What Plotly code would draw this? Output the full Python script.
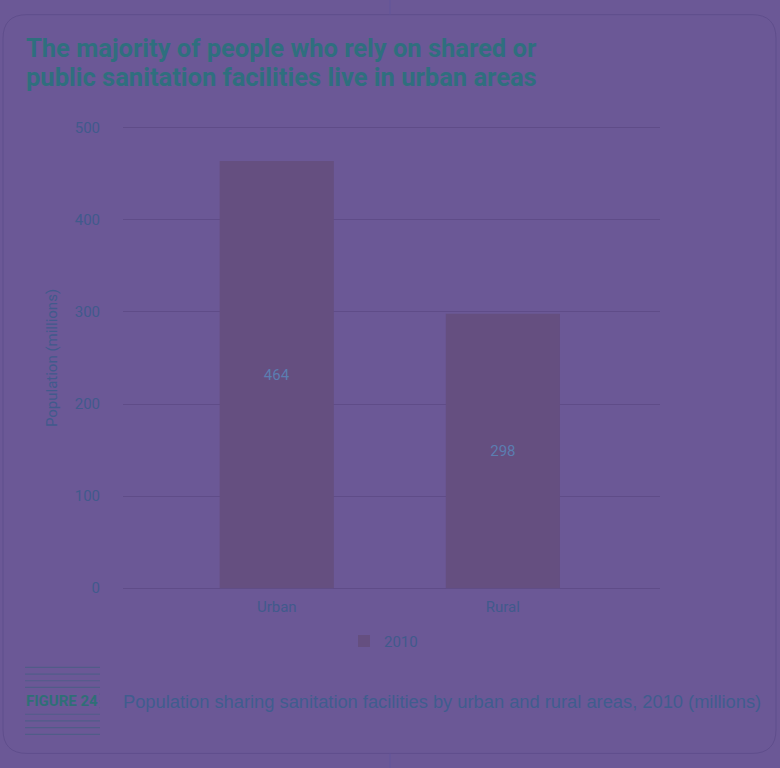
import plotly.graph_objects as go

categories = ["Urban", "Rural"]
values_2010 = [464, 298]
series_name = "2010"
y_ticks = [0, 100, 200, 300, 400, 500]

title_lines = ["The majority of people who rely on shared or",
               "public sanitation facilities live in urban areas"]
caption = "Population sharing sanitation facilities by urban and rural areas, 2010 (millions)"
fig_label = "FIGURE 24"

W, H = 780, 768
YMIN, YMAX = -3, 503
PXU = 0.92
L, R = 123, 660
T, B = 128 - 3 * PXU, 588 + 3 * PXU

def px(x):
    return (x - L) / (R - L)

def py(y):
    return (B - y) / (B - T)

BG = "#6b5896"
BAR = "#654f80"
GRID = "#5f4c88"
AXTXT = "#415a8c"
TITLE = "#2f6f7e"
FONT = "Roboto, Arial"

fig = go.Figure()
fig.add_trace(go.Bar(
    x=categories, y=values_2010, name=series_name,
    marker=dict(color=BAR, line=dict(width=0)),
    width=0.505,
    text=[str(v) for v in values_2010],
    textposition="inside", insidetextanchor="middle",
    textfont=dict(family=FONT, size=15, color="#5b7db0"),
    showlegend=True,
))

shapes = []
# rounded border
x0, x1, y0, y1, r = 3, 776, 15, 753, 24
path = (f"M {px(x0)},{py(y0+r)} L {px(x0)},{py(y1-r)} "
        f"Q {px(x0)},{py(y1)} {px(x0+r)},{py(y1)} L {px(x1-r)},{py(y1)} "
        f"Q {px(x1)},{py(y1)} {px(x1)},{py(y1-r)} L {px(x1)},{py(y0+r)} "
        f"Q {px(x1)},{py(y0)} {px(x1-r)},{py(y0)} L {px(x0+r)},{py(y0)} "
        f"Q {px(x0)},{py(y0)} {px(x0)},{py(y0+r)} Z")
shapes.append(dict(type="path", xref="paper", yref="paper", path=path,
                   line=dict(color="#5f4e8c", width=1), layer="below"))
# faint vertical lines outside the card
for (a, b) in [(0, 15), (753, 768)]:
    shapes.append(dict(type="line", xref="paper", yref="paper",
                       x0=px(390), x1=px(390), y0=py(a), y1=py(b),
                       line=dict(color="#62549a", width=1)))
# stripes beside the figure label
for i in range(11):
    yy = 667 + i * 6.7
    shapes.append(dict(type="line", xref="paper", yref="paper",
                       x0=px(25), x1=px(100), y0=py(yy), y1=py(yy),
                       line=dict(color="#505c88", width=1.2)))

annotations = []
for i, line in enumerate(title_lines):
    annotations.append(dict(text=f"<b>{line}</b>", xref="paper", yref="paper",
                            x=px(24), y=py(48 + i * 29), xanchor="left", yanchor="middle",
                            showarrow=False,
                            font=dict(family=FONT, size=25.5, color=TITLE)))
annotations.append(dict(text=f"<b>{fig_label}</b>", xref="paper", yref="paper",
                        x=px(24), y=py(701), xanchor="left", yanchor="middle",
                        showarrow=False, bgcolor=BG,
                        font=dict(family=FONT, size=15, color="#2f6f76")))
annotations.append(dict(text=caption, xref="paper", yref="paper",
                        x=px(121), y=py(701), xanchor="left", yanchor="middle",
                        showarrow=False,
                        font=dict(family="Liberation Sans, Arial", size=18.3, color="#3f5d8e")))

fig.update_layout(
    width=W, height=H,
    margin=dict(l=L, r=W - R, t=T, b=H - B, pad=0),
    paper_bgcolor=BG, plot_bgcolor=BG,
    font=dict(family=FONT, color=AXTXT, size=15),
    shapes=shapes, annotations=annotations,
    legend=dict(orientation="h", x=px(344), y=py(641), xanchor="left", yanchor="middle",
                font=dict(family=FONT, size=15, color=AXTXT), bgcolor="rgba(0,0,0,0)",
                itemwidth=30),
    xaxis=dict(type="category", range=[-0.68, 1.695], showgrid=False, zeroline=False,
               showline=False, ticks="", ticklabelstandoff=5,
               tickfont=dict(family=FONT, size=15, color=AXTXT)),
    yaxis=dict(range=[YMIN, YMAX], tickvals=y_ticks, showgrid=True, gridcolor=GRID, gridwidth=1,
               zeroline=False, showline=False, ticks="", ticklabelstandoff=22,
               tickfont=dict(family=FONT, size=15, color=AXTXT),
               title=dict(text="Population (millions)", standoff=13,
                          font=dict(family=FONT, size=15, color=AXTXT))),
)

fig.write_html("out.html", config={"displayModeBar": False},
               post_script="document.body.style.margin='0';document.body.style.background='#6b5896';")
